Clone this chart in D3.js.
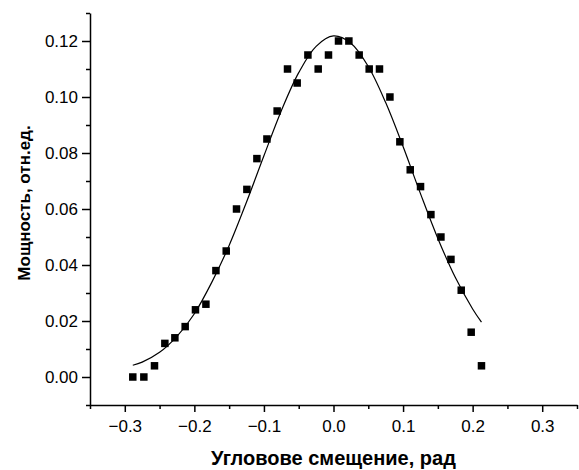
<!DOCTYPE html>
<meta charset="utf-8">
<style>
    body{ margin:0; background:#fff; }
    svg text{ font-family: "Liberation Sans", Arial, sans-serif; fill:#000; }
    .tick text{ font-size:17px; }
    .axis-title{ font-weight:bold; }
</style>
<script src="https://d3js.org/d3.v7.min.js"></script>
<body>
<div id="chart"></div>
<script>
    // measured points: angular offset (rad) and relative power
    var angle = [-0.2885, -0.2726, -0.2573, -0.2424, -0.228, -0.2132, -0.1984, -0.1834, -0.169, -0.1542,
                 -0.1394, -0.1245, -0.1101, -0.0957, -0.081, -0.0661, -0.0522, -0.0368, -0.022, -0.0072,
                 0.0072, 0.0221, 0.0369, 0.0513, 0.0661, 0.0811, 0.0954, 0.1103, 0.1251, 0.14,
                 0.1544, 0.1688, 0.1836, 0.1979, 0.2127];
    var power = [0, 0, 0.004, 0.012, 0.014, 0.018, 0.024, 0.026, 0.038, 0.045,
                 0.060, 0.067, 0.078, 0.085, 0.095, 0.110, 0.105, 0.115, 0.110, 0.115,
                 0.120, 0.120, 0.115, 0.110, 0.110, 0.100, 0.084, 0.074, 0.068, 0.058,
                 0.050, 0.042, 0.031, 0.016, 0.004];

    // fitted curve, sampled
    var fitAngle = [-0.2885, -0.275, -0.25, -0.225, -0.2, -0.175, -0.15, -0.125, -0.1, -0.075, -0.05,
                    -0.025, 0, 0.025, 0.05, 0.075, 0.1, 0.125, 0.15, 0.175, 0.2, 0.2127];
    var fitPower = [0.0042, 0.0053, 0.0088, 0.0145, 0.0226, 0.0338, 0.0470, 0.0625, 0.0790, 0.0951, 0.1087,
                    0.1181, 0.1218, 0.1192, 0.1109, 0.0980, 0.0823, 0.0655, 0.0495, 0.0356, 0.0243, 0.0196];

    var xMajor = [-0.3, -0.2, -0.1, 0, 0.1, 0.2, 0.3];
    var xMinor = [-0.35, -0.25, -0.15, -0.05, 0.05, 0.15, 0.25, 0.35];
    var yMajor = [0, 0.02, 0.04, 0.06, 0.08, 0.10, 0.12];
    var yMinor = [-0.01, 0.01, 0.03, 0.05, 0.07, 0.09, 0.11, 0.13];

    var width = 579, height = 470;
    var svg = d3.select("#chart").append("svg")
        .attr("width", width)
        .attr("height", height);

    var x = d3.scaleLinear().domain([-0.35, 0.35]).range([90, 577]);
    var y = d3.scaleLinear().domain([-0.01, 0.13]).range([405, 13]);

    // x axis
    svg.append("g")
        .attr("transform", "translate(0,405)")
        .call(d3.axisBottom(x).tickValues(xMinor).tickSize(4).tickSizeOuter(0).tickFormat(""))
        .call(g => g.select(".domain").remove())
        .selectAll("line").attr("stroke-width", 1.5);
    svg.append("g")
        .attr("transform", "translate(0,405)")
        .call(d3.axisBottom(x).tickValues(xMajor).tickSize(7).tickSizeOuter(0).tickPadding(8)
              .tickFormat(d3.format(".1f")))
        .call(g => g.select(".domain").attr("stroke-width", 1.5))
        .call(g => g.selectAll("line").attr("stroke-width", 1.5))
        .call(g => g.selectAll("text").attr("fill", "#000"));

    // y axis
    svg.append("g")
        .attr("transform", "translate(90,0)")
        .call(d3.axisLeft(y).tickValues(yMinor).tickSize(4).tickSizeOuter(0).tickFormat(""))
        .call(g => g.select(".domain").remove())
        .selectAll("line").attr("stroke-width", 1.5);
    svg.append("g")
        .attr("transform", "translate(90,0)")
        .call(d3.axisLeft(y).tickValues(yMajor).tickSize(8).tickSizeOuter(0).tickPadding(4)
              .tickFormat(d3.format(".2f")))
        .call(g => g.select(".domain").attr("stroke-width", 1.5))
        .call(g => g.selectAll("line").attr("stroke-width", 1.5))
        .call(g => g.selectAll("text").attr("fill", "#000"));

    // fit line
    var fit = fitAngle.map(function(a, i){ return [a, fitPower[i]]; });
    svg.append("path")
        .datum(fit)
        .attr("fill", "none")
        .attr("stroke", "#000")
        .attr("stroke-width", 1.2)
        .attr("d", d3.line()
            .x(function(d){ return x(d[0]); })
            .y(function(d){ return y(d[1]); })
            .curve(d3.curveCatmullRom));

    // square markers
    var s = 7.5;
    svg.selectAll("rect.pt")
        .data(angle)
        .enter().append("rect")
        .attr("class", "pt")
        .attr("x", function(d){ return x(d) - s/2; })
        .attr("y", function(d, i){ return y(power[i]) - s/2; })
        .attr("width", s)
        .attr("height", s)
        .attr("fill", "#000");

    // titles
    svg.append("text")
        .attr("class", "axis-title")
        .attr("x", 333.5)
        .attr("y", 465)
        .attr("text-anchor", "middle")
        .style("font-size", "20px")
        .text("Угловове смещение, рад");

    svg.append("text")
        .attr("class", "axis-title")
        .attr("transform", "translate(30,203) rotate(-90)")
        .attr("text-anchor", "middle")
        .style("font-size", "17px")
        .text("Мощность, отн.ед.");
</script>
</body>
